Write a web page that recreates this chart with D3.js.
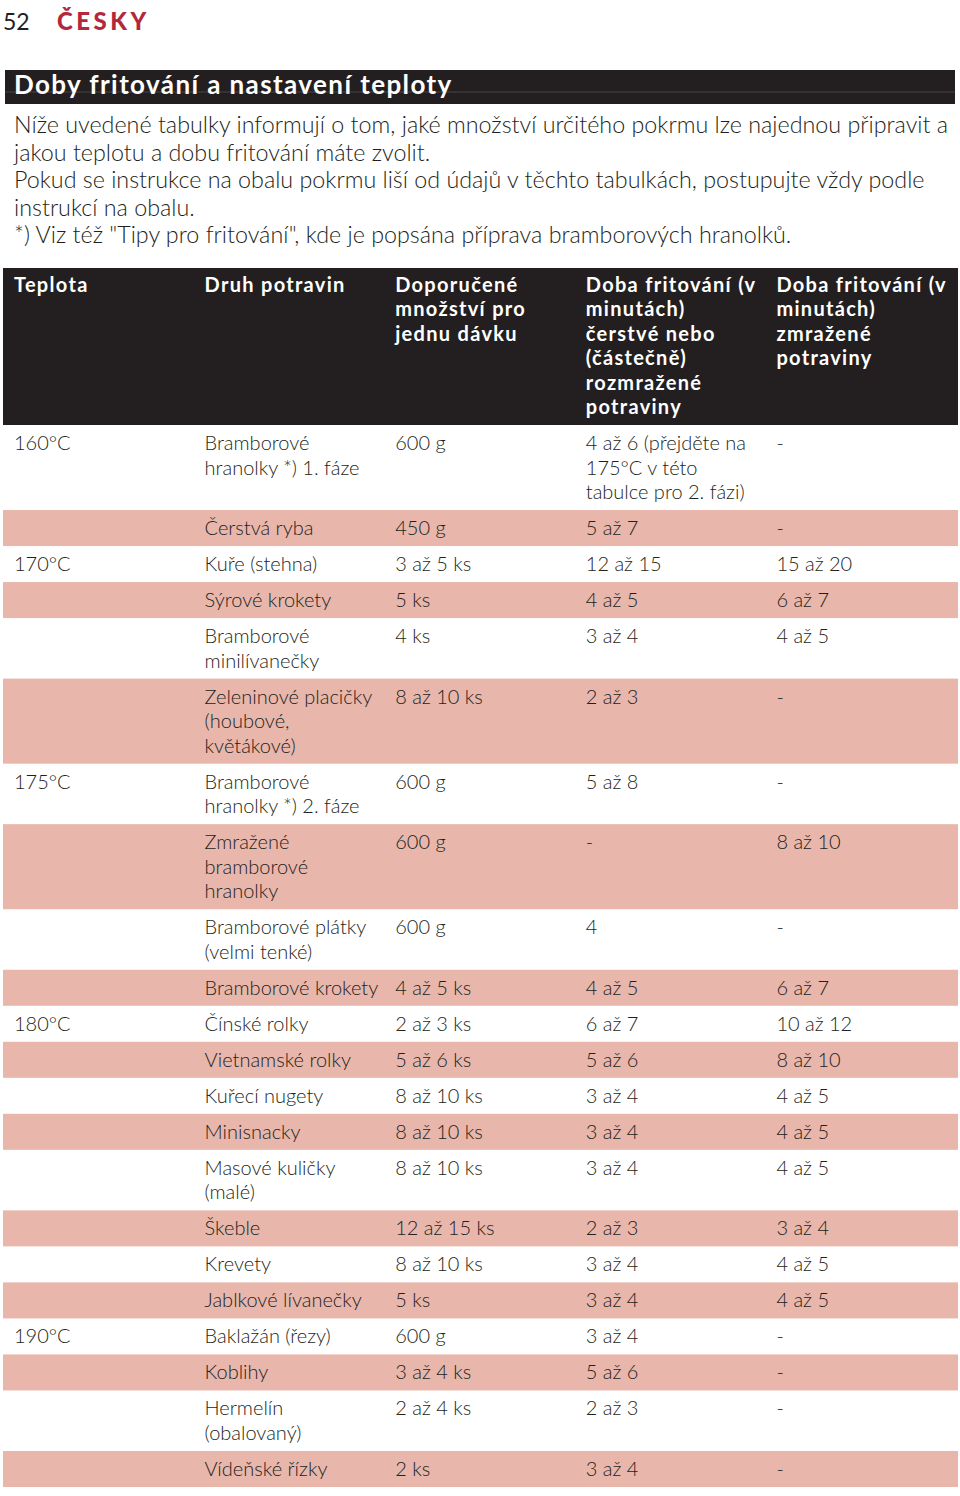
<!DOCTYPE html>
<html><head><meta charset="utf-8">
<script src="https://cdn.jsdelivr.net/npm/d3@7/dist/d3.min.js"></script>
<style>
html,body{margin:0;padding:0;background:#fff;}
svg{display:block;}
</style></head>
<body>
<script>
const pageNumber = "52";
const language = "ČESKY";
const title = "Doby fritování a nastavení teploty";
const introLines = [
  "Níže uvedené tabulky informují o tom, jaké množství určitého pokrmu lze najednou připravit a",
  "jakou teplotu a dobu fritování máte zvolit.",
  "Pokud se instrukce na obalu pokrmu liší od údajů v těchto tabulkách, postupujte vždy podle",
  "instrukcí na obalu.",
  "*) Viz též \"Tipy pro fritování\", kde je popsána příprava bramborových hranolků."
];
const columnHeaders = [
  "Teplota",
  "Druh potravin",
  "Doporučené\nmnožství pro\njednu dávku",
  "Doba fritování (v\nminutách)\nčerstvé nebo\n(částečně)\nrozmražené\npotraviny",
  "Doba fritování (v\nminutách)\nzmražené\npotraviny"
];
const temperatures = ["160°C","","170°C","","","","175°C","","","","180°C","","","","","","","","190°C","","",""];
const foods = [
  "Bramborové\nhranolky *) 1. fáze","Čerstvá ryba","Kuře (stehna)","Sýrové krokety",
  "Bramborové\nminilívanečky","Zeleninové placičky\n(houbové,\nkvětákové)",
  "Bramborové\nhranolky *) 2. fáze","Zmražené\nbramborové\nhranolky",
  "Bramborové plátky\n(velmi tenké)","Bramborové krokety","Čínské rolky","Vietnamské rolky",
  "Kuřecí nugety","Minisnacky","Masové kuličky\n(malé)","Škeble","Krevety",
  "Jablkové lívanečky","Baklažán (řezy)","Koblihy","Hermelín\n(obalovaný)","Vídeňské řízky"
];
const amounts = ["600 g","450 g","3 až 5 ks","5 ks","4 ks","8 až 10 ks","600 g","600 g","600 g","4 až 5 ks",
  "2 až 3 ks","5 až 6 ks","8 až 10 ks","8 až 10 ks","8 až 10 ks","12 až 15 ks","8 až 10 ks","5 ks",
  "600 g","3 až 4 ks","2 až 4 ks","2 ks"];
const freshTimes = ["4 až 6 (přejděte na\n175°C v této\ntabulce pro 2. fázi)","5 až 7","12 až 15","4 až 5","3 až 4",
  "2 až 3","5 až 8","-","4","4 až 5","6 až 7","5 až 6","3 až 4","3 až 4","3 až 4","2 až 3","3 až 4",
  "3 až 4","3 až 4","5 až 6","2 až 3","3 až 4"];
const frozenTimes = ["-","-","15 až 20","6 až 7","4 až 5","-","-","8 až 10","-","6 až 7","10 až 12","8 až 10",
  "4 až 5","4 až 5","4 až 5","3 až 4","4 až 5","4 až 5","-","-","-","-"];

const W = 960, H = 1496;
const FONT = "Lato, 'Open Sans', 'DejaVu Sans', sans-serif";
const INK = "#231f20";
const PINK = "#e8b6ab";
const RED = "#b3283b";

const svg = d3.select("body").append("svg").attr("width", W).attr("height", H)
  .style("font-family", FONT);

// page header
svg.append("text").attr("x", 3).attr("y", 30).attr("font-size", 23).attr("font-weight", 400)
  .attr("fill", INK).text(pageNumber);
svg.append("text").attr("x", 57).attr("y", 30).attr("font-size", 24).attr("font-weight", 900)
  .attr("letter-spacing", 3.5).attr("fill", RED).text(language);

// title bar
svg.append("rect").attr("x", 5).attr("y", 70).attr("width", 950).attr("height", 34).attr("fill", INK);
svg.append("line").attr("x1", 5).attr("x2", 955).attr("y1", 92).attr("y2", 92)
  .attr("stroke", "#4a4647").attr("stroke-width", 1);
svg.append("text").attr("x", 14).attr("y", 94).attr("font-size", 26).attr("font-weight", 700)
  .attr("letter-spacing", 1.4).attr("fill", "#fff").text(title);

// intro paragraph
const introY = d3.scaleLinear().domain([0, 1]).range([133, 160.6]);
svg.append("g").selectAll("text").data(introLines).join("text")
  .attr("x", 14).attr("y", (d, i) => introY(i))
  .attr("font-size", 23.3).attr("font-weight", 300).attr("fill", INK)
  .text(d => d);

// columns
const x = d3.scaleBand().domain(d3.range(columnHeaders.length)).range([5, 958]).paddingInner(0);
const textX = i => x(i) + 9;

// header
const headTop = 268, headBottom = 425;
svg.append("rect").attr("x", 3).attr("y", headTop).attr("width", 955).attr("height", headBottom - headTop)
  .attr("fill", INK);
const headLineY = d3.scaleLinear().domain([0, 1]).range([292, 316.4]);
const hg = svg.append("g");
columnHeaders.forEach((h, ci) => {
  hg.append("g").selectAll("text").data(h.split("\n")).join("text")
    .attr("x", textX(ci)).attr("y", (d, k) => headLineY(k))
    .attr("font-size", 20).attr("font-weight", 700).attr("letter-spacing", 1.3).attr("fill", "#fff")
    .text(d => d);
});

// rows
const rows = foods.map((f, i) => {
  const cells = [temperatures[i], f, amounts[i], freshTimes[i], frozenTimes[i]].map(c => c.split("\n"));
  return { cells, lines: d3.max(cells, c => c.length) };
});
const PAD = 11.5 / 24.5;
let acc = 0;
rows.forEach(r => { r.start = acc; acc += r.lines + PAD; r.end = acc; });
const y = d3.scaleLinear().domain([0, acc]).range([headBottom, 1487]);
const lineStep = y(1) - y(0);

const rg = svg.append("g").selectAll("g").data(rows).join("g");
rg.filter((d, i) => i % 2 === 1).append("rect")
  .attr("x", 3).attr("width", 955)
  .attr("y", d => y(d.start)).attr("height", d => y(d.end) - y(d.start))
  .attr("fill", PINK);
rg.each(function(r) {
  const g = d3.select(this);
  r.cells.forEach((lines, ci) => {
    g.append("g").selectAll("text").data(lines).join("text")
      .attr("x", textX(ci))
      .attr("y", (d, k) => y(r.start) + 25 + k * lineStep)
      .attr("font-size", 20).attr("font-weight", 300).attr("fill", INK)
      .text(d => d);
  });
});
</script>
</body></html>
